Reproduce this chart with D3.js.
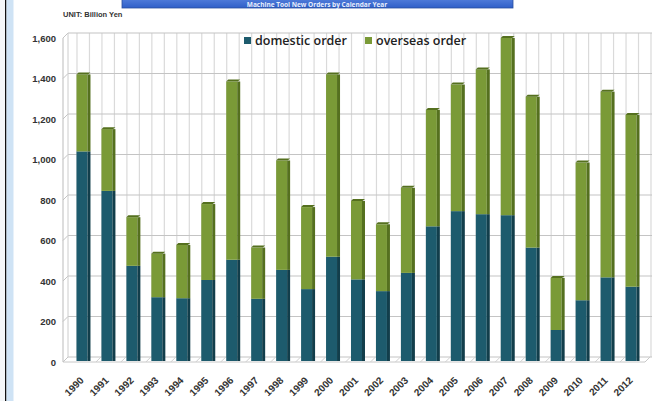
<!DOCTYPE html>
<html><head><meta charset="utf-8">
<script src="https://cdn.jsdelivr.net/npm/d3@7"></script>
<style>body{margin:0;background:#fff}svg{display:block}</style>
</head><body>
<svg id="c" width="652" height="401"></svg>
<script>
const years = ["1990","1991","1992","1993","1994","1995","1996","1997","1998","1999","2000","2001","2002","2003","2004","2005","2006","2007","2008","2009","2010","2011","2012"];
const domestic = [1040,845,475,320,315,405,505,312,455,360,520,408,350,440,670,745,730,725,565,158,305,418,372];
const overseasTotal = [1420,1150,715,535,578,780,1385,565,995,765,1420,795,680,860,1245,1370,1445,1600,1310,415,985,1335,1220];
const overseas = overseasTotal.map((t,i)=>t-domestic[i]);
const yTicks = [0,200,400,600,800,1000,1200,1400,1600];
const seriesNames = ["domestic order","overseas order"];
const colors = ["#1d5b6d","#7a9a37"];
const sideColors = ["#123e4b","#55701f"];

const svg = d3.select("#c");
// frame decorations
svg.append("rect").attr("x",0).attr("y",0).attr("width",5).attr("height",401).attr("fill","#f4f6f8");
svg.append("rect").attr("x",5).attr("y",0).attr("width",1.5).attr("height",401).attr("fill","#111");
svg.append("rect").attr("x",6.5).attr("y",0).attr("width",7).attr("height",401).attr("fill","#cfe3f5");

// banner
const g0 = svg.append("defs").append("linearGradient").attr("id","bn").attr("x1",0).attr("y1",0).attr("x2",0).attr("y2",1);
g0.append("stop").attr("offset","0").attr("stop-color","#5b86e0");
g0.append("stop").attr("offset","1").attr("stop-color","#2f5fc8");
svg.append("rect").attr("x",122).attr("y",-4).attr("width",391).attr("height",12).attr("fill","url(#bn)").attr("stroke","#2a4f9e").attr("stroke-width",0.8);
svg.append("text").attr("x",317).attr("y",6.5).attr("text-anchor","middle").attr("fill","#e8eefc")
  .attr("font-family","Open Sans, sans-serif").attr("font-weight","bold").attr("font-size",6.5)
  .text("Machine Tool New Orders by Calendar Year");

svg.append("text").attr("x",63).attr("y",17).attr("fill","#333").attr("font-family","Liberation Sans, Arial, sans-serif")
  .attr("font-weight","bold").attr("font-size",7.5).text("UNIT: Billion  Yen");

const pL = 68, pR = 645, pB = 362, pT = 38, depth = 5;
const x = d3.scaleBand().domain(years).range([pL+3, pR]).paddingInner(0.44).paddingOuter(0.22);
const y = d3.scaleLinear().domain([0,1600]).range([pB, pT]);

// vertical grid lines on back wall (half-category)
const step = x.step();
const vlines = d3.range(0, years.length*2+1).map(i => x(years[0]) + 0.5 + i*step/2).filter(v=>v<=652);
svg.append("g").selectAll("line").data(vlines).join("line")
  .attr("x1",d=>d).attr("x2",d=>d).attr("y1",pT-depth).attr("y2",pB-depth)
  .attr("stroke","#dadada").attr("stroke-width",1.2);
// horizontal grid on back wall
svg.append("g").selectAll("line").data(yTicks).join("line")
  .attr("x1",pL).attr("x2",652).attr("y1",d=>y(d)-depth).attr("y2",d=>y(d)-depth)
  .attr("stroke","#c4c4c4").attr("stroke-width",1.2);
// side wall slants
svg.append("g").selectAll("line").data(yTicks).join("line")
  .attr("x1",pL-depth).attr("x2",pL).attr("y1",d=>y(d)).attr("y2",d=>y(d)-depth)
  .attr("stroke","#c4c4c4").attr("stroke-width",1);
svg.append("line").attr("x1",pL-depth).attr("x2",pL-depth).attr("y1",pT).attr("y2",pB).attr("stroke","#bbb");
svg.append("line").attr("x1",pL).attr("x2",pL).attr("y1",pT-depth).attr("y2",pB-depth).attr("stroke","#ccc");
// floor front
svg.append("line").attr("x1",pL-depth).attr("x2",pR).attr("y1",pB).attr("y2",pB).attr("stroke","#c8c8c8");
svg.append("line").attr("x1",pR+depth).attr("x2",pR).attr("y1",pB-depth).attr("y2",pB).attr("stroke","#c8c8c8");
svg.append("g").selectAll("line").data(years.slice(1)).join("line")
  .attr("x1",d=>x(d)-step*0.22).attr("x2",d=>x(d)-step*0.22+depth).attr("y1",pB).attr("y2",pB-depth)
  .attr("stroke","#d0d0d0");

// y axis labels
const yAxis = d3.axisLeft(y).tickValues(yTicks).tickSize(0).tickPadding(0).tickFormat(d3.format(","));
const ya = svg.append("g").attr("transform",`translate(56,0)`).call(yAxis);
ya.select(".domain").remove();
ya.selectAll("text").attr("font-family","Liberation Sans, Arial, sans-serif").attr("font-weight","bold").attr("font-size",9.5).attr("fill","#333");

// stacked bars
const stack = d3.stack().keys([0,1])(years.map((yr,i)=>({0:domestic[i],1:overseas[i]})));
const bw = x.bandwidth(), side = 3;
stack.forEach((layer,k)=>{
  const g = svg.append("g");
  layer.forEach((d,i)=>{
    const x0 = x(years[i]);
    g.append("rect").attr("x",x0).attr("y",y(d[1])).attr("width",bw-side).attr("height",y(d[0])-y(d[1])-(k===0?1:0)).attr("fill",colors[k]);
    g.append("rect").attr("x",x0+bw-side).attr("y",y(d[1])).attr("width",side).attr("height",y(d[0])-y(d[1])-(k===0?1:0)).attr("fill",sideColors[k]);
  });
});
// top caps
svg.append("g").selectAll("path").data(overseasTotal).join("path")
  .attr("d",(d,i)=>{const x0=x(years[i]), yy=y(d); return `M${x0},${yy} L${x0+2},${yy-2} L${x0+bw},${yy-2} L${x0+bw-side+0.5},${yy} Z`;})
  .attr("fill",sideColors[1]);

// x labels
const xa = svg.append("g").attr("transform",`translate(0,${pB+14})`);
xa.selectAll("text").data(years).join("text")
  .attr("transform",d=>`translate(${x(d)+bw/2-4},0) rotate(-45)`)
  .attr("text-anchor","end").attr("dy","0.7em")
  .attr("font-family","Liberation Sans, Arial, sans-serif").attr("font-weight","bold").attr("font-size",10).attr("fill","#333")
  .text(d=>d);

// legend
const lg = svg.append("g").attr("transform","translate(244,41)");
const lx = [0,121];
seriesNames.forEach((n,k)=>{
  lg.append("rect").attr("x",lx[k]).attr("y",-4).attr("width",7).attr("height",7).attr("fill",colors[k]);
  lg.append("text").attr("x",lx[k]+11).attr("y",4).attr("font-family","Open Sans, sans-serif").attr("font-weight","600")
    .attr("font-size",12.5).attr("fill","#222").text(n);
});
</script>
</body></html>
